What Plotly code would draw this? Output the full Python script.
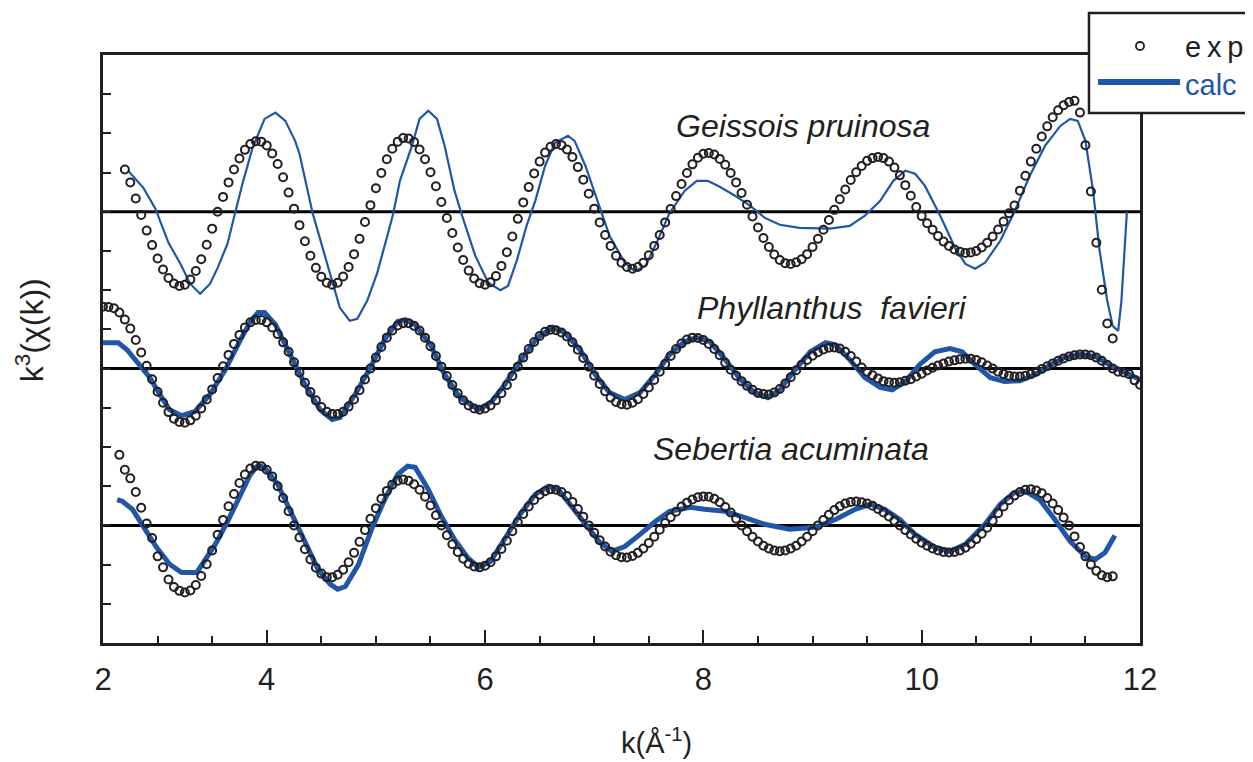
import numpy as np
import plotly.graph_objects as go

# k grids of the measured spectra (uniform 0.05 step)
k_top = np.round(np.arange(2.70, 11.751, 0.05), 2)
k_mid = np.round(np.arange(2.50, 12.001, 0.05), 2)
k_bot = np.round(np.arange(2.65, 11.751, 0.05), 2)

# experimental k^3 chi(k), Geissois pruinosa
exp_top = [
    1.08, 0.75, 0.34, -0.08, -0.48, -0.85, -1.19, -1.47, -1.69, -1.83,
    -1.89, -1.86, -1.73, -1.51, -1.21, -0.84, -0.43, 0.00, 0.38, 0.75,
    1.08, 1.36, 1.58, 1.73, 1.80, 1.79, 1.69, 1.49, 1.22, 0.88,
    0.49, 0.08, -0.34, -0.75, -1.12, -1.43, -1.66, -1.81, -1.86, -1.81,
    -1.65, -1.41, -1.08, -0.69, -0.26, 0.17, 0.60, 0.99, 1.34, 1.61,
    1.79, 1.88, 1.87, 1.78, 1.59, 1.34, 1.01, 0.65, 0.25, -0.16,
    -0.54, -0.91, -1.23, -1.50, -1.70, -1.82, -1.86, -1.80, -1.64, -1.38,
    -1.03, -0.63, -0.18, 0.24, 0.63, 0.98, 1.28, 1.51, 1.66, 1.73,
    1.70, 1.59, 1.40, 1.14, 0.82, 0.46, 0.08, -0.27, -0.59, -0.87,
    -1.12, -1.30, -1.41, -1.45, -1.41, -1.30, -1.11, -0.87, -0.59, -0.27,
    0.07, 0.40, 0.71, 0.99, 1.21, 1.38, 1.48, 1.50, 1.46, 1.35,
    1.20, 0.99, 0.75, 0.48, 0.18, -0.12, -0.40, -0.67, -0.90, -1.09,
    -1.23, -1.31, -1.33, -1.29, -1.21, -1.08, -0.90, -0.69, -0.46, -0.21,
    0.05, 0.32, 0.57, 0.81, 1.01, 1.17, 1.30, 1.37, 1.40, 1.37,
    1.28, 1.13, 0.93, 0.68, 0.41, 0.12, -0.11, -0.29, -0.46, -0.62,
    -0.76, -0.87, -0.96, -1.02, -1.05, -1.04, -1.00, -0.91, -0.79, -0.63,
    -0.45, -0.25, -0.04, 0.16, 0.54, 0.92, 1.28, 1.61, 1.92, 2.18,
    2.41, 2.59, 2.72, 2.80, 2.83, 2.53, 1.70, 0.52, -0.79, -1.99,
    -2.85, -3.23,
]

# experimental, Phyllanthus favieri
exp_mid = [
    1.58, 1.57, 1.54, 1.43, 1.25, 1.02, 0.73, 0.41, 0.07, -0.27,
    -0.59, -0.87, -1.11, -1.28, -1.36, -1.38, -1.32, -1.20, -1.02, -0.79,
    -0.53, -0.24, 0.06, 0.35, 0.63, 0.86, 1.05, 1.18, 1.24, 1.24,
    1.18, 1.05, 0.88, 0.67, 0.43, 0.16, -0.10, -0.36, -0.60, -0.81,
    -0.98, -1.10, -1.16, -1.16, -1.10, -0.97, -0.79, -0.55, -0.28, 0.00,
    0.28, 0.55, 0.79, 0.97, 1.10, 1.16, 1.16, 1.09, 0.97, 0.79,
    0.57, 0.32, 0.05, -0.19, -0.42, -0.63, -0.81, -0.94, -1.02, -1.05,
    -1.02, -0.94, -0.81, -0.63, -0.42, -0.19, 0.05, 0.28, 0.50, 0.68,
    0.83, 0.94, 0.99, 0.98, 0.92, 0.82, 0.67, 0.48, 0.27, 0.05,
    -0.18, -0.39, -0.58, -0.74, -0.85, -0.91, -0.92, -0.87, -0.78, -0.65,
    -0.48, -0.29, -0.08, 0.12, 0.32, 0.50, 0.64, 0.74, 0.79, 0.78,
    0.73, 0.63, 0.50, 0.34, 0.15, -0.03, -0.18, -0.32, -0.44, -0.54,
    -0.62, -0.65, -0.66, -0.61, -0.52, -0.38, -0.22, -0.04, 0.10, 0.22,
    0.33, 0.42, 0.49, 0.53, 0.54, 0.51, 0.43, 0.32, 0.18, 0.03,
    -0.08, -0.17, -0.25, -0.32, -0.35, -0.36, -0.35, -0.31, -0.27, -0.20,
    -0.13, -0.05, 0.02, 0.08, 0.13, 0.18, 0.21, 0.24, 0.25, 0.25,
    0.22, 0.16, 0.08, 0.00, -0.08, -0.14, -0.18, -0.20, -0.20, -0.18,
    -0.14, -0.08, -0.01, 0.06, 0.13, 0.20, 0.26, 0.31, 0.34, 0.36,
    0.36, 0.34, 0.28, 0.20, 0.10, 0.00, -0.08, -0.10, -0.14, -0.30,
    -0.41,
]

# experimental, Sebertia acuminata
exp_bot = [
    1.80, 1.42, 1.20, 0.85, 0.45, 0.05, -0.32, -0.79, -1.07, -1.38,
    -1.57, -1.67, -1.71, -1.66, -1.52, -1.29, -0.99, -0.64, -0.24, 0.14,
    0.49, 0.80, 1.08, 1.30, 1.45, 1.52, 1.51, 1.42, 1.25, 1.00,
    0.70, 0.36, 0.00, -0.31, -0.61, -0.87, -1.08, -1.23, -1.32, -1.32,
    -1.26, -1.13, -0.94, -0.70, -0.42, -0.12, 0.17, 0.44, 0.68, 0.88,
    1.04, 1.14, 1.17, 1.14, 1.05, 0.91, 0.73, 0.51, 0.26, 0.00,
    -0.25, -0.48, -0.68, -0.85, -0.98, -1.05, -1.07, -1.03, -0.94, -0.79,
    -0.60, -0.39, -0.15, 0.08, 0.29, 0.48, 0.65, 0.78, 0.87, 0.92,
    0.91, 0.85, 0.75, 0.60, 0.42, 0.22, 0.00, -0.19, -0.38, -0.54,
    -0.67, -0.76, -0.81, -0.82, -0.78, -0.70, -0.59, -0.45, -0.29, -0.11,
    0.06, 0.21, 0.35, 0.48, 0.58, 0.66, 0.72, 0.74, 0.73, 0.68,
    0.59, 0.47, 0.33, 0.17, 0.00, -0.15, -0.29, -0.41, -0.52, -0.59,
    -0.64, -0.66, -0.64, -0.59, -0.52, -0.41, -0.29, -0.15, 0.00, 0.14,
    0.27, 0.39, 0.49, 0.56, 0.60, 0.61, 0.59, 0.56, 0.50, 0.42,
    0.33, 0.23, 0.12, 0.00, -0.12, -0.23, -0.34, -0.44, -0.52, -0.59,
    -0.64, -0.68, -0.69, -0.68, -0.64, -0.57, -0.47, -0.35, -0.21, -0.06,
    0.12, 0.31, 0.48, 0.64, 0.76, 0.85, 0.91, 0.92, 0.89, 0.82,
    0.70, 0.56, 0.39, 0.20, 0.00, -0.28, -0.55, -0.79, -1.00, -1.16,
    -1.27, -1.32, -1.30,
]

# calculated fits
calc_top_k = [2.73, 2.87, 2.98, 3.10, 3.21, 3.30, 3.39, 3.48, 3.55, 3.64,
              3.71, 3.78, 3.87, 3.98, 4.08, 4.17, 4.26, 4.30, 4.42, 4.58,
              4.67, 4.76, 4.83, 4.92, 5.01, 5.10, 5.16, 5.22, 5.33, 5.40,
              5.48, 5.56, 5.63, 5.72, 5.79, 5.91, 6.03, 6.14, 6.21, 6.29,
              6.38, 6.46, 6.55, 6.64, 6.76, 6.82, 6.92, 7.03, 7.14, 7.28,
              7.37, 7.47, 7.58, 7.69, 7.83, 7.94, 8.04, 8.15, 8.29, 8.43,
              8.56, 8.70, 8.88, 9.16, 9.34, 9.48, 9.62, 9.74, 9.85, 9.94,
              10.03, 10.17, 10.31, 10.40, 10.49, 10.58, 10.72, 10.85, 10.99, 11.13,
              11.27, 11.36, 11.43, 11.50, 11.57, 11.63, 11.70, 11.75, 11.80, 11.83,
              11.88]
calc_top = [1.05, 0.61, 0.08, -0.79, -1.33, -1.84, -2.09, -1.84, -1.43, -0.82,
            -0.03, 0.74, 1.63, 2.37, 2.53, 2.32, 1.81, 1.48, -0.03, -1.58,
            -2.45, -2.78, -2.73, -2.27, -1.58, -0.66, -0.03, 0.79, 1.68, 2.37,
            2.58, 2.37, 1.68, 0.54, -0.10, -1.12, -1.81, -2.00, -1.89, -1.25,
            -0.36, 0.28, 1.17, 1.76, 1.94, 1.81, 1.17, 0.28, -0.61, -1.30,
            -1.51, -1.38, -0.74, -0.03, 0.54, 0.79, 0.79, 0.64, 0.41, 0.15,
            -0.15, -0.33, -0.41, -0.43, -0.36, -0.10, 0.28, 0.79, 1.05, 0.97,
            0.66, -0.10, -0.94, -1.33, -1.45, -1.30, -0.74, 0.00, 0.92, 1.68,
            2.19, 2.37, 2.32, 1.81, 0.54, -0.99, -2.27, -2.91, -3.04, -2.27,
            0.00]

calc_mid_k = [2.50, 2.64, 2.72, 2.84, 2.93, 3.02, 3.11, 3.22, 3.34, 3.48,
              3.62, 3.76, 3.85, 3.92, 3.98, 4.08, 4.21, 4.35, 4.49, 4.60,
              4.67, 4.81, 4.95, 5.08, 5.20, 5.27, 5.36, 5.50, 5.63, 5.77,
              5.94, 6.06, 6.18, 6.32, 6.48, 6.62, 6.73, 6.87, 7.01, 7.14,
              7.28, 7.42, 7.56, 7.69, 7.83, 7.94, 8.06, 8.20, 8.34, 8.47,
              8.59, 8.70, 8.84, 8.98, 9.12, 9.21, 9.34, 9.48, 9.62, 9.73,
              9.85, 9.98, 10.12, 10.26, 10.37, 10.49, 10.63, 10.76, 10.90, 11.04,
              11.18, 11.31, 11.45, 11.59, 11.72, 11.86, 12.00]
calc_mid = [0.66, 0.66, 0.48, 0.10, -0.23, -0.66, -1.05, -1.20, -1.10, -0.66,
            -0.03, 0.74, 1.20, 1.43, 1.43, 1.12, 0.36, -0.41, -1.05, -1.30,
            -1.25, -0.66, 0.03, 0.74, 1.20, 1.25, 1.12, 0.61, -0.15, -0.74,
            -1.05, -0.84, -0.41, 0.18, 0.79, 1.05, 0.92, 0.48, -0.15, -0.61,
            -0.79, -0.61, -0.15, 0.36, 0.69, 0.79, 0.69, 0.23, -0.28, -0.61,
            -0.74, -0.54, -0.03, 0.43, 0.66, 0.61, 0.23, -0.23, -0.48, -0.54,
            -0.33, 0.10, 0.43, 0.51, 0.43, 0.10, -0.23, -0.33, -0.31, -0.15,
            0.10, 0.28, 0.36, 0.31, 0.10, -0.08, -0.28]

calc_bot_k = [2.63, 2.68, 2.77, 2.87, 2.99, 3.11, 3.22, 3.36, 3.43, 3.53,
              3.65, 3.76, 3.85, 3.92, 3.98, 4.10, 4.23, 4.35, 4.47, 4.58,
              4.65, 4.72, 4.84, 4.96, 5.08, 5.20, 5.29, 5.36, 5.48, 5.59,
              5.72, 5.84, 5.94, 6.05, 6.18, 6.32, 6.46, 6.58, 6.67, 6.78,
              6.92, 7.05, 7.16, 7.28, 7.42, 7.56, 7.69, 7.88, 8.01, 8.20,
              8.38, 8.56, 8.79, 9.02, 9.21, 9.39, 9.53, 9.66, 9.80, 9.94,
              10.12, 10.26, 10.40, 10.58, 10.72, 10.85, 10.95, 11.08, 11.22, 11.36,
              11.50, 11.59, 11.68, 11.77]
calc_bot = [0.66, 0.61, 0.41, -0.05, -0.56, -0.99, -1.20, -1.20, -0.92, -0.48,
            0.15, 0.79, 1.30, 1.53, 1.48, 1.05, 0.28, -0.48, -1.12, -1.50,
            -1.63, -1.56, -1.00, -0.10, 0.66, 1.30, 1.51, 1.48, 0.92, 0.28,
            -0.36, -0.82, -1.07, -0.92, -0.36, 0.28, 0.79, 1.00, 0.92, 0.54,
            0.03, -0.43, -0.66, -0.54, -0.23, 0.10, 0.36, 0.46, 0.41, 0.36,
            0.20, 0.03, -0.10, -0.05, 0.15, 0.41, 0.54, 0.41, 0.15, -0.23,
            -0.56, -0.66, -0.48, 0.03, 0.54, 0.84, 0.87, 0.66, 0.15, -0.41,
            -0.79, -0.87, -0.69, -0.26]

samples = ["Geissois pruinosa", "Phyllanthus  favieri", "Sebertia acuminata"]
offsets = [11, 7, 3]

INK = "#231f20"
BLUE = "#1f56a8"
FONT = "Liberation Sans, Arial, sans-serif"

fig = go.Figure()

spectra = [
    (k_top, exp_top, calc_top_k, calc_top, 2.2),
    (k_mid, exp_mid, calc_mid_k, calc_mid, 5),
    (k_bot, exp_bot, calc_bot_k, calc_bot, 5),
]
for (kx, ex, kc, cc, lw), off in zip(spectra, offsets):
    fig.add_trace(go.Scatter(
        x=kc, y=np.array(cc) + off, mode="lines",
        line=dict(color=BLUE, width=lw), hoverinfo="skip"))
    fig.add_trace(go.Scatter(
        x=kx, y=np.array(ex) + off, mode="markers",
        marker=dict(symbol="circle-open", size=8, color=INK,
                    line=dict(width=2, color=INK)),
        hoverinfo="skip"))

# zero lines of each offset spectrum
for off in offsets:
    fig.add_shape(type="line", xref="x", yref="y", x0=2.5, x1=12, y0=off, y1=off,
                  line=dict(color="black", width=3), layer="below")

# sample names
label_pos = [(8.91, 13.2), (9.17, 8.55), (8.80, 4.95)]
for name, (lx, ly) in zip(samples, label_pos):
    fig.add_annotation(x=lx, y=ly, xref="x", yref="y", text=name, showarrow=False,
                       xanchor="center", yanchor="middle",
                       font=dict(size=32, family=FONT, color=INK, style="italic"))

# legend box (drawn by hand, sticks out of the plot at top right)
fig.add_shape(type="rect", xref="paper", yref="paper",
              x0=0.9508, x1=1.13, y0=0.9014, y1=1.0714,
              line=dict(color=INK, width=2.5), fillcolor="white", layer="above")
fig.add_shape(type="circle", xref="paper", yref="paper",
              x0=0.9961, x1=1.0039, y0=1.0085, y1=1.0221,
              line=dict(color=INK, width=1.8), layer="above")
fig.add_shape(type="line", xref="paper", yref="paper",
              x0=0.9595, x1=1.0386, y0=0.9541, y1=0.9541,
              line=dict(color=BLUE, width=6), layer="above")
fig.add_annotation(x=1.0415, y=1.0136, xref="paper", yref="paper", xanchor="left",
                   yanchor="middle", text="e\u2009x\u2009p", showarrow=False,
                   font=dict(size=29, family=FONT, color=INK))
fig.add_annotation(x=1.0415, y=0.9490, xref="paper", yref="paper", xanchor="left",
                   yanchor="middle", text="calc", showarrow=False,
                   font=dict(size=29, family=FONT, color=BLUE))

# axis titles
fig.add_annotation(x=0.5333, y=-0.166, xref="paper", yref="paper",
                   xanchor="center", yanchor="middle",
                   text="k(Å<sup>-1</sup>)", showarrow=False,
                   font=dict(size=29, family=FONT, color=INK))
fig.add_annotation(x=-0.0704, y=0.532, xref="paper", yref="paper", textangle=-90,
                   xanchor="center", yanchor="middle",
                   text="k<sup>3</sup>(χ(k))", showarrow=False,
                   font=dict(size=32, family=FONT, color=INK))

# page body keeps an 8 px margin, so the figure is 8 px smaller than the window
fig.update_layout(
    width=1245, height=754,
    margin=dict(l=95, r=113, t=47, b=119),
    plot_bgcolor="white", paper_bgcolor="white",
    showlegend=False,
    font=dict(family=FONT, color=INK),
    xaxis=dict(
        range=[2.5, 12], showgrid=False, zeroline=False,
        showline=True, linecolor=INK, linewidth=2.5, mirror=True,
        ticks="inside", ticklen=13, tickwidth=2, tickcolor=INK,
        tickvals=[2.5, 4, 6, 8, 10, 12], ticktext=["2", "4", "6", "8", "10", "12"],
        tickfont=dict(size=31, family=FONT, color=INK), ticklabelstandoff=7,
        minor=dict(tickvals=[3, 3.5, 4.5, 5, 5.5, 6.5, 7, 7.5, 8.5, 9, 9.5,
                             10.5, 11, 11.5],
                   ticks="inside", ticklen=7, tickwidth=2, tickcolor=INK,
                   showgrid=False),
    ),
    yaxis=dict(
        range=[0, 15], showgrid=False, zeroline=False,
        showline=True, linecolor=INK, linewidth=2.5, mirror=True,
        ticks="inside", ticklen=8, tickwidth=2, tickcolor=INK,
        tickvals=list(range(0, 16)), showticklabels=False,
    ),
)

fig.write_html("out.html")
